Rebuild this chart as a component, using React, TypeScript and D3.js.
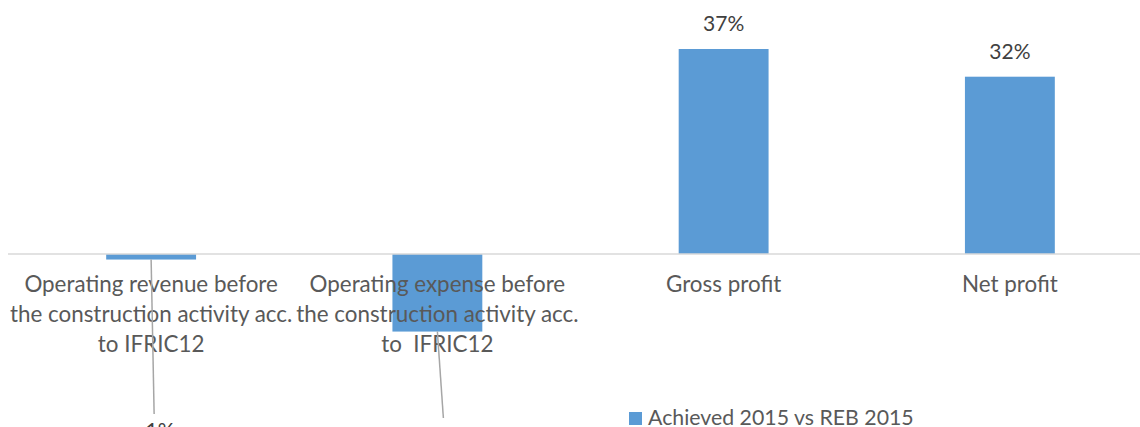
import React from "react";
import * as d3 from "d3";

const categories: string[][] = [
  ["Operating revenue before", "the construction activity acc.", "to IFRIC12"],
  ["Operating expense before", "the construction activity acc.", "to  IFRIC12"],
  ["Gross profit"],
  ["Net profit"],
];
const values: number[] = [-1, -14, 37, 32];
const valueLabels: string[] = ["-1%", "-14%", "37%", "32%"];
const seriesName = "Achieved 2015 vs REB 2015";

const W = 1140;
const H = 427;
const BLUE = "#5b9bd5";
const FONT = "Lato, 'Open Sans', sans-serif";

export default function App() {
  const x = d3
    .scaleBand<number>()
    .domain(values.map((_, i) => i))
    .range([8, 1153])
    .paddingInner(0.686)
    .paddingOuter(0.343);
  const y = d3.scaleLinear().domain([0, 37]).range([254, 49]);
  const bw = x.bandwidth();

  return (
    <svg
      width={W}
      height={H}
      style={{ position: "absolute", left: 0, top: 0, display: "block", background: "#fff" }}
      fontFamily={FONT}
    >
      {values.map((v, i) => {
        const x0 = x(i)!;
        const top = Math.min(y(v), y(0));
        const h = Math.abs(y(v) - y(0));
        return <rect key={"b" + i} x={x0} y={top} width={bw} height={h} fill={BLUE} />;
      })}
      <line x1={8} x2={W} y1={y(0)} y2={y(0)} stroke="#d9d9d9" strokeWidth={1.5} />
      {categories.map((lines, i) => (
        <text
          key={"c" + i}
          x={x(i)! + bw / 2}
          y={292}
          textAnchor="middle"
          fontSize={22.4}
          fill="#595959"
        >
          {lines.map((l, j) => (
            <tspan key={j} x={x(i)! + bw / 2} dy={j === 0 ? 0 : 30} style={{ whiteSpace: "pre" }}>
              {l}
            </tspan>
          ))}
        </text>
      ))}
      {values.map((v, i) => {
        const cx = x(i)! + bw / 2;
        if (v >= 0) {
          return (
            <text key={"l" + i} x={cx} y={y(v) - 18} textAnchor="middle" fontSize={21} fill="#404040">
              {valueLabels[i]}
            </text>
          );
        }
        const ly = i === 0 ? 438 : 470;
        const lx = cx + (i === 0 ? 5 : 8);
        return (
          <g key={"l" + i}>
            <line x1={cx} y1={y(v)} x2={cx + (i === 0 ? 3 : 6)} y2={i === 0 ? 414 : 418} stroke="#a6a6a6" strokeWidth={1.5} />
            <text x={lx} y={ly} textAnchor="middle" fontSize={21} fill="#404040">
              {valueLabels[i]}
            </text>
          </g>
        );
      })}
      <rect x={629} y={412} width={13} height={13} fill={BLUE} />
      <text x={648} y={425} fontSize={21.3} fill="#595959">
        {seriesName}
      </text>
    </svg>
  );
}
